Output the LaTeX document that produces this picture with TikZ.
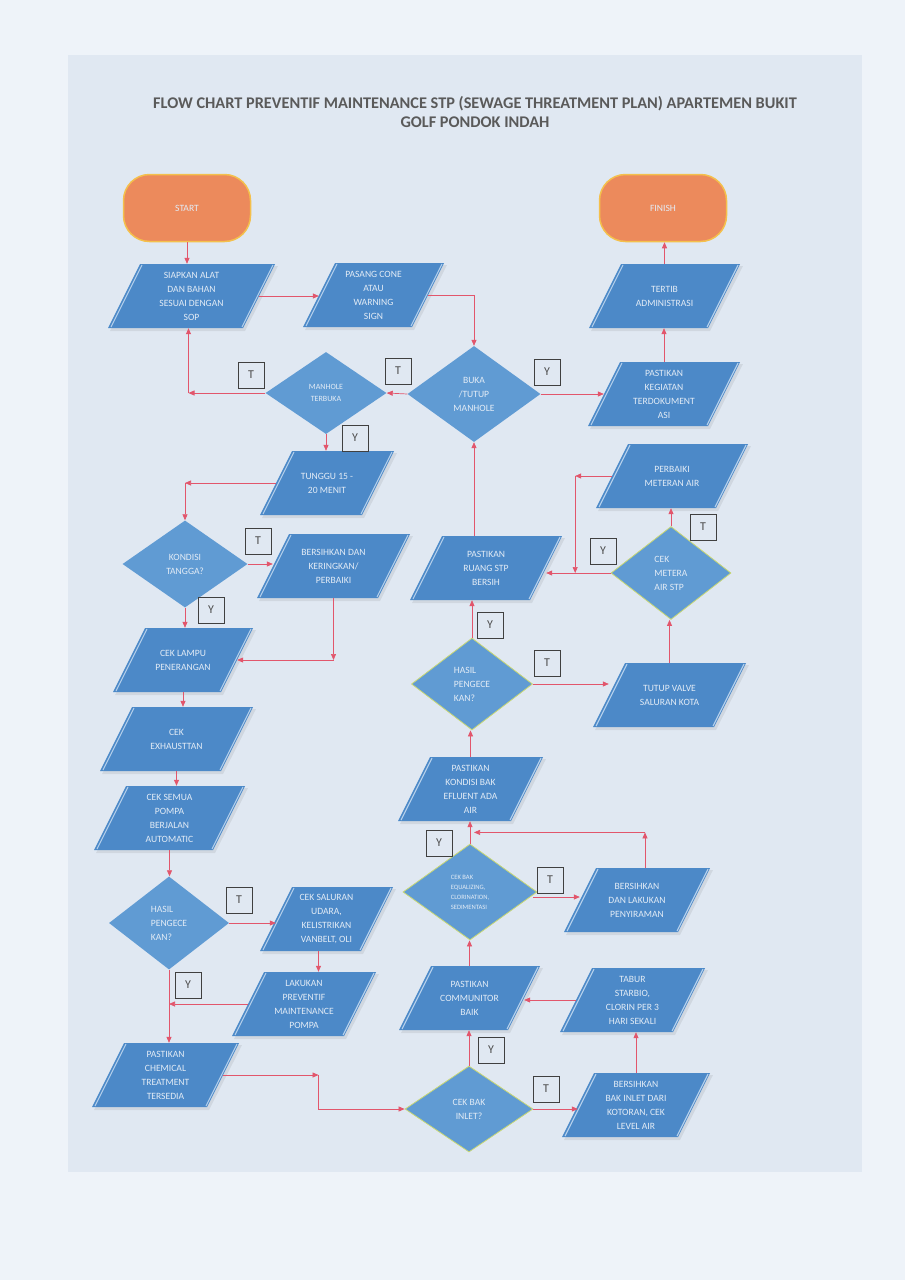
\documentclass[tikz,border=0pt]{standalone}
\usepackage{fontspec}
\setmainfont{Carlito}
\usetikzlibrary{shapes.geometric,arrows.meta,calc}
\definecolor{paper}{HTML}{EEF3F9}
\definecolor{scan}{HTML}{E0E8F2}
\definecolor{pblue}{HTML}{4C89C8}
\definecolor{dblue}{HTML}{609BD3}
\definecolor{edgeb}{HTML}{B5D0EC}
\definecolor{conn}{HTML}{E2566C}
\definecolor{termf}{HTML}{EC8A5C}
\definecolor{terme}{HTML}{F4C04C}
\definecolor{dgreen}{HTML}{C9D873}
\definecolor{txt}{HTML}{E3ECF6}
\definecolor{ttl}{HTML}{5A5A5A}
\tikzset{
  ptext/.style={inner sep=0pt, minimum height=64pt, align=center, text=txt,
    font=\fontsize{9.6}{14}\selectfont},
  dia/.style={diamond, fill=dblue, inner sep=0pt, align=center, text=txt,
    font=\fontsize{9.6}{14}\selectfont},
  diag/.style={dia, draw=dgreen, line width=0.8pt},
  termnode/.style={rounded corners=26pt, fill=termf, draw=terme, line width=1.5pt,
    minimum width=127pt, minimum height=67pt, text=txt, font=\fontsize{9.6}{11}\selectfont},
  lbl/.style={draw=black!75, line width=0.6pt, minimum size=26pt, inner sep=0pt,
    text=black!70, font=\fontsize{12}{12}\selectfont},
  arr/.style={draw=conn, line width=0.7pt, -{Triangle[length=6pt,width=5pt]}},
}
% name, cx, cy, total width, text
\newcommand\paral[5]{%
  \fill[black,opacity=0.07] (#2-#4/2+2,#3+35) -- (#2-#4/2+35,#3-30) -- (#2+#4/2+3,#3-30) -- (#2+#4/2-30,#3+35) -- cycle;
  \fill[pblue] (#2-#4/2,#3+32) -- (#2-#4/2+32,#3-32) -- (#2+#4/2,#3-32) -- (#2+#4/2-32,#3+32) -- cycle;
  \draw[edgeb,line width=1.1pt] (#2-#4/2+3,#3+31) -- (#2-#4/2+34,#3-31);
  \draw[edgeb,line width=1.1pt] (#2+#4/2-2,#3-31) -- (#2+#4/2-33,#3+31);
  \node[ptext,minimum width=#4-32] (#1) at (#2,#3) {#5};}
\begin{document}
\begin{tikzpicture}[x=1pt,y=-1pt]
\fill[paper] (0,0) rectangle (905,1280);
\fill[scan] (68,55) rectangle (862,1172);
\useasboundingbox (0,0) rectangle (905,1280);

\node[font=\fontsize{16.3}{19}\selectfont\bfseries, text=ttl, align=center] (title) at (475,112)
  {FLOW CHART PREVENTIF MAINTENANCE STP (SEWAGE THREATMENT PLAN) APARTEMEN BUKIT\\GOLF PONDOK INDAH};

\node[termnode] (start) at (187,208) {START};
\node[termnode] (finish) at (663,208) {FINISH};

\paral{siapkan}{191.5}{296}{167}{SIAPKAN ALAT\\DAN BAHAN\\SESUAI DENGAN\\SOP}
\paral{pasang}{373.5}{295}{141}{PASANG CONE\\ATAU\\WARNING\\SIGN}
\paral{tertib}{664.5}{296}{151}{TERTIB\\ADMINISTRASI}
\paral{kegiatan}{664}{394}{152}{PASTIKAN\\KEGIATAN\\TERDOKUMENT\\ASI}
\paral{tunggu}{327}{483}{134}{TUNGGU 15 -\\20 MENIT}
\paral{perbaiki}{672}{476}{152}{PERBAIKI\\METERAN AIR}
\paral{bersih1}{333.5}{566}{153}{BERSIHKAN DAN\\KERINGKAN/\\PERBAIKI}
\paral{ruang}{486}{568}{152}{PASTIKAN\\RUANG STP\\BERSIH}
\paral{lampu}{183}{660}{140}{CEK LAMPU\\PENERANGAN}
\paral{valve}{669.5}{695}{153}{TUTUP VALVE\\SALURAN KOTA}
\paral{exhaust}{176.5}{739}{153}{CEK\\EXHAUSTTAN}
\paral{efluent}{470.5}{789}{145}{PASTIKAN\\KONDISI BAK\\EFLUENT ADA\\AIR}
\paral{semua}{169.5}{818}{151}{CEK SEMUA\\POMPA\\BERJALAN\\AUTOMATIC}
\paral{penyiraman}{637}{900}{146}{BERSIHKAN\\DAN LAKUKAN\\PENYIRAMAN}
\paral{saluran}{326.5}{919}{133}{CEK SALURAN\\UDARA,\\KELISTRIKAN\\VANBELT, OLI}
\paral{communitor}{469.5}{998}{141}{PASTIKAN\\COMMUNITOR\\BAIK}
\paral{tabur}{632.5}{1000}{145}{TABUR\\STARBIO,\\CLORIN PER 3\\HARI SEKALI}
\paral{lakukan}{304}{1004}{144}{LAKUKAN\\PREVENTIF\\MAINTENANCE\\POMPA}
\paral{chemical}{165.5}{1075}{147}{PASTIKAN\\CHEMICAL\\TREATMENT\\TERSEDIA}
\paral{bersih3}{636}{1105}{148}{BERSIHKAN\\BAK INLET DARI\\KOTORAN, CEK\\LEVEL AIR}

\node[dia, minimum width=121pt, minimum height=82pt, font=\fontsize{8}{12}\selectfont] (manhole) at (326,393) {MANHOLE\\TERBUKA};
\node[dia, minimum width=133pt, minimum height=96pt] (buka) at (474,394) {BUKA\\/TUTUP\\MANHOLE};
\node[dia, minimum width=125pt, minimum height=87pt] (kondisi) at (185,564) {KONDISI\\TANGGA?};
\node[diag, minimum width=120pt, minimum height=93pt, align=left] (metera) at (671,573) {CEK\\METERA\\AIR STP};
\node[diag, minimum width=121pt, minimum height=92pt, align=left] (hasil2) at (472,684) {HASIL\\PENGECE\\KAN?};
\node[diag, minimum width=134pt, minimum height=96pt, align=left, font=\fontsize{6.6}{10}\selectfont] (equal) at (470,892) {CEK BAK\\EQUALIZING,\\CLORINATION,\\SEDIMENTASI};
\node[dia, minimum width=120pt, minimum height=93pt, align=left] (hasil1) at (169,923) {HASIL\\PENGECE\\KAN?};
\node[diag, minimum width=128pt, minimum height=86pt] (inlet) at (469,1109) {CEK BAK\\INLET?};

% connectors
\draw[arr] (start.south) -- (start.south |- siapkan.north);
\draw[arr] (siapkan.east) -- (siapkan.east -| pasang.west);
\draw[arr] (pasang.east) -| (buka.north);
\draw[arr] (buka.west) -- (manhole.east);
\coordinate (c1) at ([xshift=-3pt]siapkan.south |- manhole.west);
\draw[arr] (manhole.west) -- (c1);
\draw[arr] (c1) -- (c1 |- siapkan.south);
\draw[arr] (buka.east) -- (kegiatan.west);
\draw[arr] (kegiatan.north) -- (kegiatan.north |- tertib.south);
\draw[arr] (tertib.north) -- (tertib.north |- finish.south);
\draw[arr] (manhole.south) -- (manhole.south |- tunggu.north);
\coordinate (c2) at (kondisi.north |- tunggu.west);
\draw[arr] (tunggu.west) -- (c2);
\draw[arr] (c2) -- (kondisi.north);
\draw[arr] (kondisi.east) -- (kondisi.east -| bersih1.west);
\draw[arr] (kondisi.south) -- (kondisi.south |- lampu.north);
\coordinate (c3) at (bersih1.south |- lampu.east);
\draw[arr] (bersih1.south) -- (c3);
\draw[arr] (c3) -- (lampu.east);
\draw[arr] (lampu.south) -- (lampu.south |- exhaust.north);
\draw[arr] (exhaust.south) -- (exhaust.south |- semua.north);
\draw[arr] (semua.south) -- (semua.south |- hasil1.north);
\draw[arr] (hasil1.east) -- (hasil1.east -| saluran.west);
\draw[arr] (hasil1.south) -- (hasil1.south |- chemical.north);
\draw[arr] (lakukan.west) -- (lakukan.west -| hasil1.south);
\draw[arr] ([xshift=-8pt]saluran.south) -- ([xshift=-8pt]saluran.south |- lakukan.north);
\coordinate (c4) at ([xshift=-8pt]saluran.south |- chemical.east);
\draw[arr] (chemical.east) -- (c4);
\draw[arr] (c4) |- (inlet.west);
\draw[arr] (inlet.north) -- (inlet.north |- communitor.south);
\draw[arr] (inlet.east) -- (inlet.east -| bersih3.west);
\draw[arr] (bersih3.north) -- (bersih3.north |- tabur.south);
\draw[arr] (tabur.west) -- (tabur.west -| communitor.east);
\draw[arr] (communitor.north) -- (communitor.north |- equal.south);
\draw[arr] (equal.north) -- (equal.north |- efluent.south);
\draw[arr] ([xshift=-4pt,yshift=-5pt]equal.east) -- ([yshift=-5pt]equal.east -| penyiraman.west);
\coordinate (c5a) at ($(efluent.south)!0.5!(equal.north)$);
\coordinate (c5) at ([xshift=8pt]penyiraman.north |- c5a);
\draw[arr] ([xshift=8pt]penyiraman.north) -- (c5);
\draw[arr] (c5) -- ([xshift=4pt]c5 -| equal.north);
\draw[arr] (efluent.north) -- (efluent.north |- hasil2.south);
\draw[arr] (hasil2.north) -- (hasil2.north |- ruang.south);
\draw[arr] (hasil2.east) -- (hasil2.east -| valve.west);
\draw[arr] (valve.north) -- (valve.north |- metera.south);
\draw[arr] (metera.north) -- (metera.north |- perbaiki.south);
\draw[arr] (metera.west) -- (metera.west -| ruang.east);
\coordinate (m6) at ($(ruang.east)!0.45!(metera.west)$);
\coordinate (c6) at (m6 |- perbaiki.west);
\draw[arr] (perbaiki.west) -- (c6);
\draw[arr] (c6) -- (c6 |- metera.west);
\draw[arr] (ruang.north -| buka.south) -- (buka.south);

% labels
\node[lbl] (l1) at (251,375) {T};
\node[lbl] (l2) at (398,371) {T};
\node[lbl] (l3) at (547,372) {Y};
\node[lbl] (l4) at (355,438) {Y};
\node[lbl] (l5) at (258,541) {T};
\node[lbl] (l6) at (211,610) {Y};
\node[lbl] (l7) at (703,527) {T};
\node[lbl] (l8) at (603,551) {Y};
\node[lbl] (l9) at (490,625) {Y};
\node[lbl] (l10) at (547,663) {T};
\node[lbl] (l11) at (439,843) {Y};
\node[lbl] (l12) at (550,880) {T};
\node[lbl] (l13) at (239,900) {T};
\node[lbl] (l14) at (188,985) {Y};
\node[lbl] (l15) at (491,1050) {Y};
\node[lbl] (l16) at (546,1089) {T};
\end{tikzpicture}
\end{document}
